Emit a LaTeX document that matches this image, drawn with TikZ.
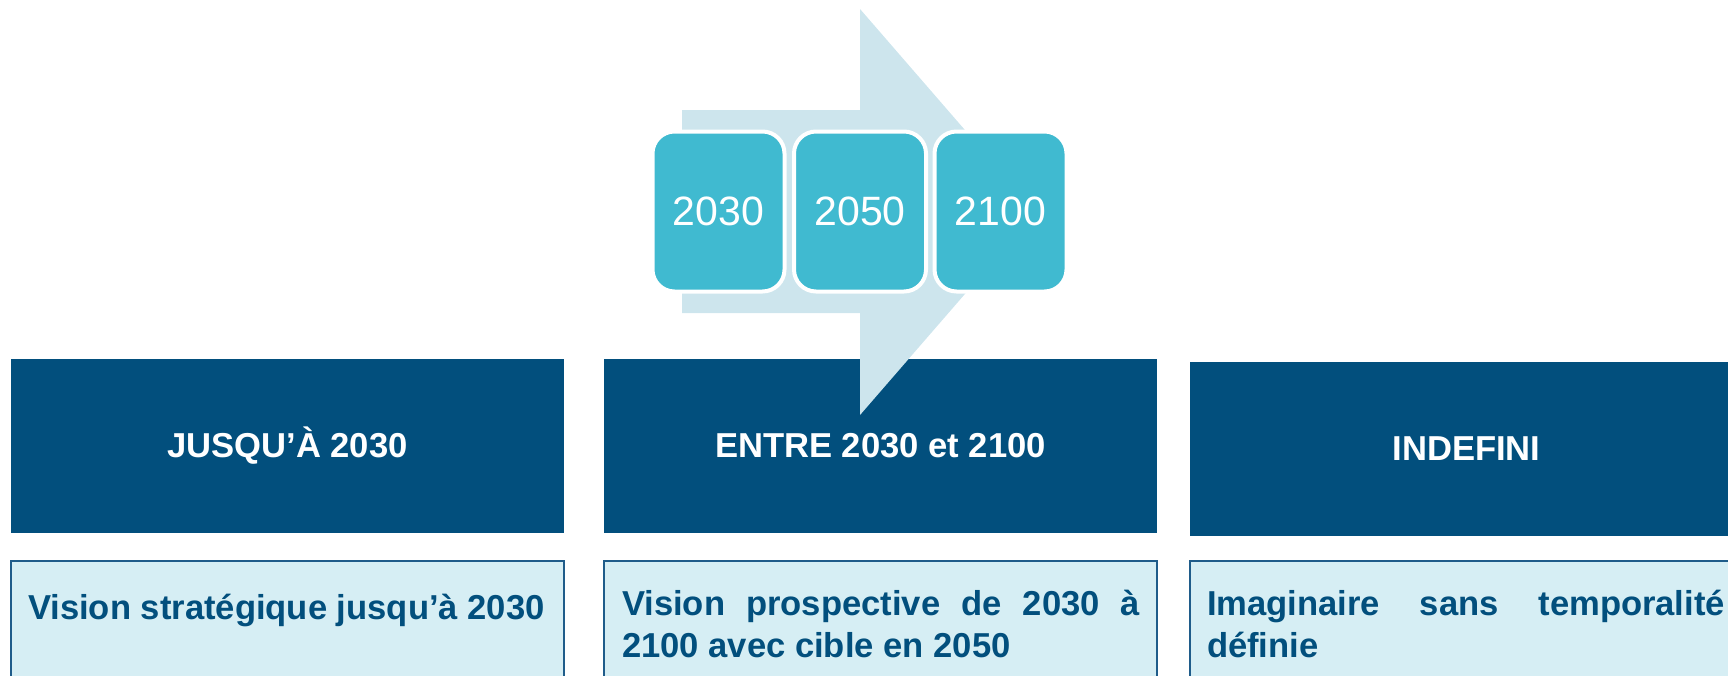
\documentclass[tikz,border=0pt]{standalone}
\usepackage{fontspec}
\setmainfont{Liberation Sans}
\definecolor{navy}{HTML}{024F7D}
\definecolor{paleblue}{HTML}{D6EEF4}
\definecolor{arrowblue}{HTML}{CDE5ED}
\definecolor{yearcyan}{HTML}{40BAD0}
\definecolor{boxline}{HTML}{1F5C8A}
\newcommand{\descsetup}{\hyphenpenalty=10000\relax\tolerance=9999\relax}
\tikzset{
  darkbox/.style={fill=navy, inner sep=0pt, outer sep=0pt, minimum width=276.5pt, minimum height=87pt,
    text=white, font=\bfseries\fontsize{17.3}{21}\selectfont},
  lightbox/.style={fill=paleblue, draw=boxline, line width=0.75pt, inner sep=0pt, outer sep=0pt,
    minimum width=276.5pt, minimum height=70pt},
  desctext/.style={text=navy, inner sep=0pt, outer sep=0pt,
    font=\bfseries\fontsize{17.3}{21}\selectfont},
  yearbox/.style={fill=yearcyan, draw=white, line width=2pt, rounded corners=11pt,
    minimum width=66pt, minimum height=80pt, inner sep=0pt,
    text=white, font=\fontsize{20.5}{24}\selectfont}
}
\begin{document}
\begin{tikzpicture}[x=0.5pt,y=-0.5pt]
\useasboundingbox (0,0) rectangle (1728,675);
% dark heading boxes
\node[darkbox] (h1) at (287.5,446) {JUSQU’À 2030};
\node[darkbox] (h2) at (880.5,446) {ENTRE 2030 et 2100};
\node[darkbox] (h3) at (1466.5,449) {INDEFINI};
% light description boxes
\node[lightbox] (d1) at (287.5,631) {};
\node[lightbox] (d2) at (880.5,631) {};
\node[lightbox] (d3) at (1466.5,631) {};
\node[desctext, anchor=base west] (t1) at (28,619) {Vision stratégique jusqu’à 2030};
\node[desctext, anchor=north west, text width=259pt, align=justify] (t2) at (622,590)
  {\descsetup Vision prospective de 2030 à 2100 avec cible en 2050};
\node[desctext, anchor=north west, text width=259pt, align=justify] (t3) at (1207,590)
  {\descsetup Imaginaire sans temporalité définie};
% arrow
\fill[arrowblue] (682,110) -- (860,110) -- (860,9) -- (1036,212) -- (860,415) -- (860,313) -- (682,313) -- cycle;
% year boxes
\node[yearbox] (y1) at (718.5,211.5) {2030};
\node[yearbox] (y2) at (860,211.5) {2050};
\node[yearbox] (y3) at (1000.5,211.5) {2100};
\end{tikzpicture}
\end{document}
